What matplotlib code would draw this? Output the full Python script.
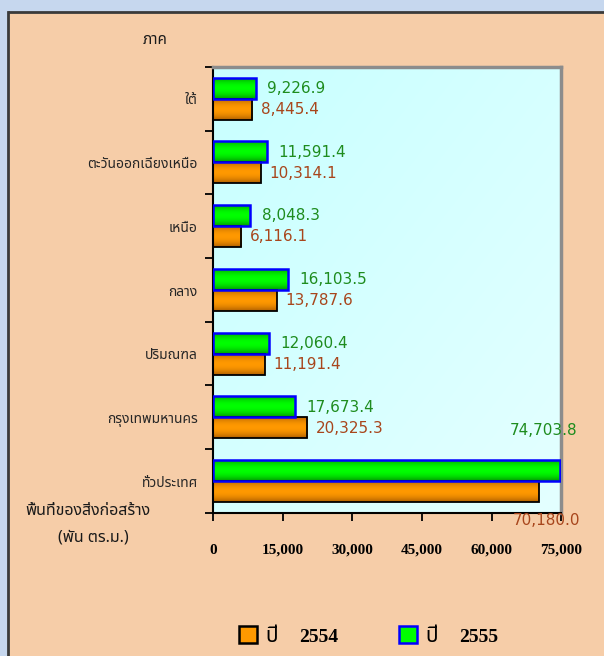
import matplotlib
matplotlib.use('Agg')
import matplotlib.pyplot as plt
import numpy as np
from matplotlib import font_manager as fm
from matplotlib.ft2font import FT2Font
from matplotlib.patches import Rectangle
from matplotlib.lines import Line2D
from matplotlib.colors import to_rgb

# ---------------- data ----------------
regions = ['ใต้', 'ตะวันออกเฉียงเหนือ', 'เหนือ', 'กลาง', 'ปริมณฑล', 'กรุงเทพมหานคร', 'ทั่วประเทศ']
area_2554 = [8445.4, 10314.1, 6116.1, 13787.6, 11191.4, 20325.3, 70180.0]
area_2555 = [9226.9, 11591.4, 8048.3, 16103.5, 12060.4, 17673.4, 74703.8]
series_years = ['2554', '2555']
x_ticks = [0, 15000, 30000, 45000, 60000, 75000]


# ---------------- fonts ----------------
def find_thai_font():
    found = []
    for f in fm.fontManager.ttflist:
        try:
            cmap = FT2Font(f.fname).get_charmap()
        except Exception:
            continue
        if 0x0E01 in cmap and 0x0E35 in cmap:
            found.append(f.name)
    if not found:
        return None
    for pref in ['Noto Sans Thai', 'Noto Sans Thai UI', 'Tahoma', 'Loma', 'Garuda', 'Sarabun', 'Kinnari']:
        if pref in found:
            return pref
    return sorted(set(found))[0]


thai = find_thai_font()
fams = ([thai] if thai else []) + ['DejaVu Sans']
plt.rcParams['font.family'] = fams

C_ORANGE = '#FF9900'
C_ORANGE_DARK = '#B06000'
C_GREEN = '#00FF00'
C_GREEN_DARK = '#009A00'
C_LBL_GREEN = '#1E8C1E'
C_LBL_ORANGE = '#A8461C'
C_PANEL = '#F6CDA8'
C_PANEL_EDGE = '#3A3A3A'

fig = plt.figure(figsize=(6.042, 6.562), dpi=100)
fig.patch.set_facecolor('#C6D7EE')
fig.patch.set_edgecolor('none')
fig.patch.set_linewidth(0)
panel_x = 8 / 604
panel_top = 1 - 12 / 656
fig.patches.append(Rectangle((panel_x, 0), 1.1 - panel_x, panel_top, transform=fig.transFigure,
                             facecolor=C_PANEL, edgecolor='none', lw=0, zorder=-10))
fig.lines.append(Line2D([panel_x, panel_x], [0, panel_top], transform=fig.transFigure,
                        color=C_PANEL_EDGE, lw=2, zorder=-9))
fig.lines.append(Line2D([panel_x, 1.05], [panel_top, panel_top], transform=fig.transFigure,
                        color=C_PANEL_EDGE, lw=2, zorder=-9, solid_capstyle='butt'))

ax = fig.add_axes([213 / 604, 1 - 513 / 656, 348 / 604, 446 / 656])
ax.set_facecolor('#D4FFFF')

# background gradient (light cyan)
gx, gy = np.meshgrid(np.linspace(0, 1, 64), np.linspace(0, 1, 64))
t = (gx + gy) / 2
c0 = np.array(to_rgb('#C8FFFF'))
c1 = np.array(to_rgb('#E4FFFF'))
bg = c0[None, None, :] * (1 - t[..., None]) + c1[None, None, :] * t[..., None]
ax.imshow(bg, extent=[0, 1, 0, 1], transform=ax.transAxes, aspect='auto', zorder=0,
          interpolation='bilinear')

n = len(regions)
y = np.arange(n)
h = 0.33
bars_54 = ax.barh(y + h / 2, area_2554, height=h, facecolor='none', edgecolor='black', lw=1.3, zorder=3)
bars_55 = ax.barh(y - h / 2, area_2555, height=h, facecolor='none', edgecolor='#0000FF', lw=1.8, zorder=3)


def grad_col(dark, light, npx=32):
    s = np.linspace(0, 1, npx)
    w = np.clip(1 - np.abs(2 * s - 1) ** 2.0, 0, 1)
    d = np.array(to_rgb(dark))
    l = np.array(to_rgb(light))
    col = d[None, :] * (1 - w[:, None]) + l[None, :] * w[:, None]
    return col[:, None, :]


for bars, dark, light in [(bars_54, C_ORANGE_DARK, C_ORANGE), (bars_55, C_GREEN_DARK, C_GREEN)]:
    g = grad_col(dark, light)
    for b in bars:
        x0, y0, w, hh = b.get_x(), b.get_y(), b.get_width(), b.get_height()
        im = ax.imshow(g, extent=(x0, x0 + w, y0 + hh, y0), aspect='auto', zorder=2,
                       interpolation='bilinear')
        im.set_clip_path(b)

ax.set_xlim(x_ticks[0], x_ticks[-1])
ax.set_ylim(n - 0.5, -0.5)
ax.set_aspect('auto')

# value labels
for i, (v54, v55) in enumerate(zip(area_2554, area_2555)):
    if i == n - 1:
        ax.annotate(f'{v55:,.1f}', xy=(v55, i - h / 2), xytext=(13, 29), textcoords='offset points',
                    ha='right', va='center', color=C_LBL_GREEN, fontsize=11, family='DejaVu Sans')
        ax.annotate(f'{v54:,.1f}', xy=(v54, i + h / 2), xytext=(30, -21), textcoords='offset points',
                    ha='right', va='center', color=C_LBL_ORANGE, fontsize=11, family='DejaVu Sans',
                    annotation_clip=False)
    else:
        ax.annotate(f'{v55:,.1f}', xy=(v55, i - h / 2), xytext=(8, 0), textcoords='offset points',
                    ha='left', va='center', color=C_LBL_GREEN, fontsize=11, family='DejaVu Sans')
        ax.annotate(f'{v54:,.1f}', xy=(v54, i + h / 2), xytext=(6, 0), textcoords='offset points',
                    ha='left', va='center', color=C_LBL_ORANGE, fontsize=11, family='DejaVu Sans')

# spines
for s in ['left', 'bottom']:
    ax.spines[s].set_color('black')
    ax.spines[s].set_linewidth(1.5)
for s in ['top', 'right']:
    ax.spines[s].set_color('#8C8C8C')
    ax.spines[s].set_linewidth(2.5)

# ticks
ax.set_xticks(x_ticks)
ax.set_xticklabels([f'{v:,}' for v in x_ticks], family='Liberation Serif', fontweight='bold', fontsize=11)
ax.tick_params(axis='x', direction='out', length=6, width=1.3, pad=16, colors='black')
ax.set_yticks(y)
ax.set_yticklabels(regions, fontsize=10, fontweight='bold', color='#262626')
ax.set_yticks(np.arange(-0.5, n, 1), minor=True)
ax.tick_params(axis='y', which='major', length=0, pad=11)
ax.tick_params(axis='y', which='minor', direction='out', length=6, width=1.3)

# titles
fig.text(155 / 604, 1 - 40 / 656, 'ภาค', ha='center', va='center', fontsize=11, fontweight='bold',
         color='#1A1A1A')
fig.text(88 / 604, 1 - 511 / 656, 'พื้นที่ของสิ่งก่อสร้าง', ha='center', va='center', fontsize=11.5,
         fontweight='bold', color='#1A1A1A')
fig.text(93 / 604, 1 - 537 / 656, '(พัน ตร.ม.)', ha='center', va='center', fontsize=11.5,
         fontweight='bold', color='#1A1A1A')

# legend (manual)
for xl, face, edge, yr in [(239, C_ORANGE, 'black', series_years[0]), (399, C_GREEN, '#0000FF', series_years[1])]:
    fig.patches.append(Rectangle((xl / 604, 1 - 643 / 656), 18 / 604, 17 / 656, transform=fig.transFigure,
                                 facecolor=face, edgecolor=edge, lw=1.8))
    fig.text((xl + 26) / 604, 1 - 636 / 656, 'ปี', ha='left', va='center', fontsize=15, fontweight='bold',
             color='black')
    fig.text((xl + 60) / 604, 1 - 637 / 656, yr, ha='left', va='center', fontsize=14, fontweight='bold',
             family='Liberation Serif', color='black')

fig.savefig('out.png', dpi=100, facecolor=fig.get_facecolor(), edgecolor='none')
